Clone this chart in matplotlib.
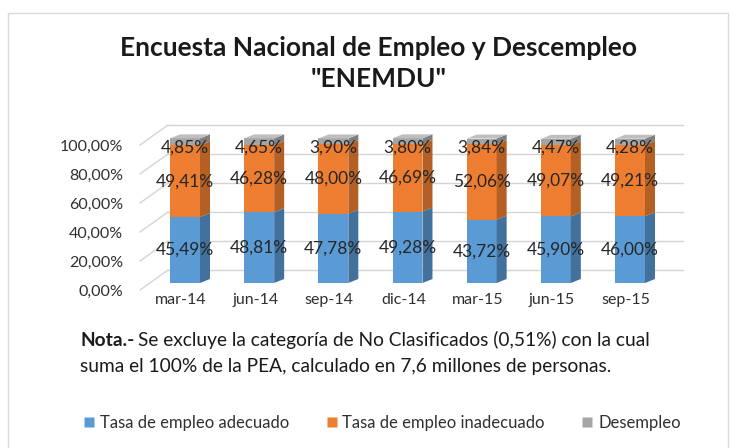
"""Encuesta Nacional de Empleo y Desempleo (ENEMDU) - stacked bar chart with a 3D look."""

import matplotlib

matplotlib.use("Agg")
import matplotlib.pyplot as plt
import matplotlib.transforms as mtransforms
from matplotlib.lines import Line2D
from matplotlib.patches import Polygon, Rectangle

plt.rcParams["font.family"] = ["Lato", "DejaVu Sans"]

periods = ["mar-14", "jun-14", "sep-14", "dic-14", "mar-15", "jun-15", "sep-15"]
adecuado = [45.49, 48.81, 47.78, 49.28, 43.72, 45.90, 46.00]
inadecuado = [49.41, 46.28, 48.00, 46.69, 52.06, 49.07, 49.21]
desempleo = [4.85, 4.65, 3.90, 3.80, 3.84, 4.47, 4.28]
y_ticks = [0, 20, 40, 60, 80, 100]
series_names = ["Tasa de empleo adecuado", "Tasa de empleo inadecuado", "Desempleo"]

front_colors = ["#5B9BD5", "#ED7D31", "#A5A5A5"]
side_colors = ["#41719C", "#B45F23", "#7F7F7F"]
top_color = "#BFBFBF"
text_color = "#303030"

W, H = 737, 448
DEPTH_X, DEPTH_Y = 10, 4  # bar depth in pixels
WALL_X, WALL_Y = 28, 13  # back-wall offset in pixels


def fmt(v):
    return f"{v:.2f}".replace(".", ",") + "%"


def px_box(left, top, right, bottom):
    return [left / W, 1 - bottom / H, (right - left) / W, (bottom - top) / H]


fig = plt.figure(figsize=(W / 100, H / 100), dpi=100)
ax = fig.add_axes(px_box(140, 138, 655, 283))
ax.axis("off")
xlim = (-0.607, 6.337)
ax.set_xlim(*xlim)
ax.set_ylim(0, 100)
ident = mtransforms.IdentityTransform()


def shifted(dx=0, dy=0):
    return mtransforms.offset_copy(ax.transData, fig=fig, x=dx, y=dy, units="dots")


# back wall gridlines and slanted side-wall lines
for v in y_ticks:
    ax.plot(xlim, [v, v], color="#D4D4D4", lw=1, transform=shifted(WALL_X, WALL_Y),
            clip_on=False, zorder=0)
    x0, y0 = ax.transData.transform((xlim[0], v))
    ax.add_line(Line2D([x0, x0 + WALL_X], [y0 - 7, y0 + WALL_Y], color="#D4D4D4",
                       lw=1, transform=ident, clip_on=False, zorder=0))

# stacked bars
width = 0.404
x = range(len(periods))
bottoms = [0.0] * len(periods)
for k, values in enumerate([adecuado, inadecuado, desempleo]):
    ax.bar(x, values, width, bottom=bottoms, color=front_colors[k], zorder=2,
           clip_on=False)
    for i, (b, v) in enumerate(zip(bottoms, values)):
        xl, yb = ax.transData.transform((i - width / 2, b))
        xr, yt = ax.transData.transform((i + width / 2, b + v))
        side = Polygon([(xr, yb), (xr + DEPTH_X, yb + DEPTH_Y),
                        (xr + DEPTH_X, yt + DEPTH_Y), (xr, yt)],
                       closed=True, facecolor=side_colors[k], edgecolor="none",
                       transform=ident, clip_on=False, zorder=2)
        ax.add_patch(side)
        if k == 2:
            top = Polygon([(xl, yt), (xr, yt), (xr + DEPTH_X, yt + DEPTH_Y),
                           (xl + DEPTH_X, yt + DEPTH_Y)], closed=True,
                          facecolor=top_color, edgecolor="none", transform=ident,
                          clip_on=False, zorder=2)
            ax.add_patch(top)
    bottoms = [b + v for b, v in zip(bottoms, values)]

ax.set_xlim(*xlim)
ax.set_ylim(0, 100)

# data labels
label_kw = dict(ha="center", va="center", fontsize=12.5, color="#262626", zorder=5,
                clip_on=False)
for i in x:
    a, b, c = adecuado[i], inadecuado[i], desempleo[i]
    ax.text(i, a / 2, fmt(a), **label_kw)
    ax.text(i, a + b / 2, fmt(b), **label_kw)
    ax.text(i, a + b + c, fmt(c), transform=shifted(0, -9), **label_kw)

# axis labels
for v in y_ticks:
    ax.text(xlim[0], v, fmt(v), transform=shifted(-17, -9), ha="right", va="center",
            fontsize=11.5, color=text_color)
for i, name in enumerate(periods):
    ax.text(i, 0, name, transform=shifted(-4, -17), ha="center", va="center",
            fontsize=11.5, color=text_color)

# title
fig.text(379 / W, 1 - 48 / H, "Encuesta Nacional de Empleo y Descempleo",
         ha="center", va="center", fontsize=19, fontweight="bold", color="#1A1A1A")
fig.text(379 / W, 1 - 79 / H, '"ENEMDU"', ha="center", va="center",
         fontsize=19, fontweight="bold", color="#1A1A1A")

# note
note_bold = fig.text(80 / W, 1 - 340 / H, "Nota.-", ha="left", va="center",
                     fontsize=13.8, fontweight="bold", color="#1A1A1A")
renderer = fig.canvas.get_renderer()
bb = note_bold.get_window_extent(renderer)
fig.text((bb.x1 + 4) / W, 1 - 340 / H,
         "Se excluye la categoría de No Clasificados (0,51%) con la cual",
         ha="left", va="center", fontsize=13.8, color="#1A1A1A")
fig.text(80 / W, 1 - 366 / H,
         "suma el 100% de la PEA, calculado en 7,6 millones de personas.",
         ha="left", va="center", fontsize=13.8, color="#1A1A1A")

# legend
handles = [Line2D([], [], marker="s", linestyle="none", markersize=7,
                  markerfacecolor=c, markeredgecolor="none") for c in front_colors]
fig.legend(handles, series_names, ncol=3, loc="center",
           bbox_to_anchor=(382 / W, 1 - 423 / H), frameon=False, fontsize=12,
           handlelength=0.7, handletextpad=0.3, columnspacing=2.2,
           labelcolor=text_color)

# chart border
fig.add_artist(Rectangle((8 / W, -0.05), 720 / W, 1 - 13 / H + 0.05,
                         transform=fig.transFigure, fill=False,
                         edgecolor="#D9D9D9", lw=1))

fig.savefig("out.png", dpi=100)
